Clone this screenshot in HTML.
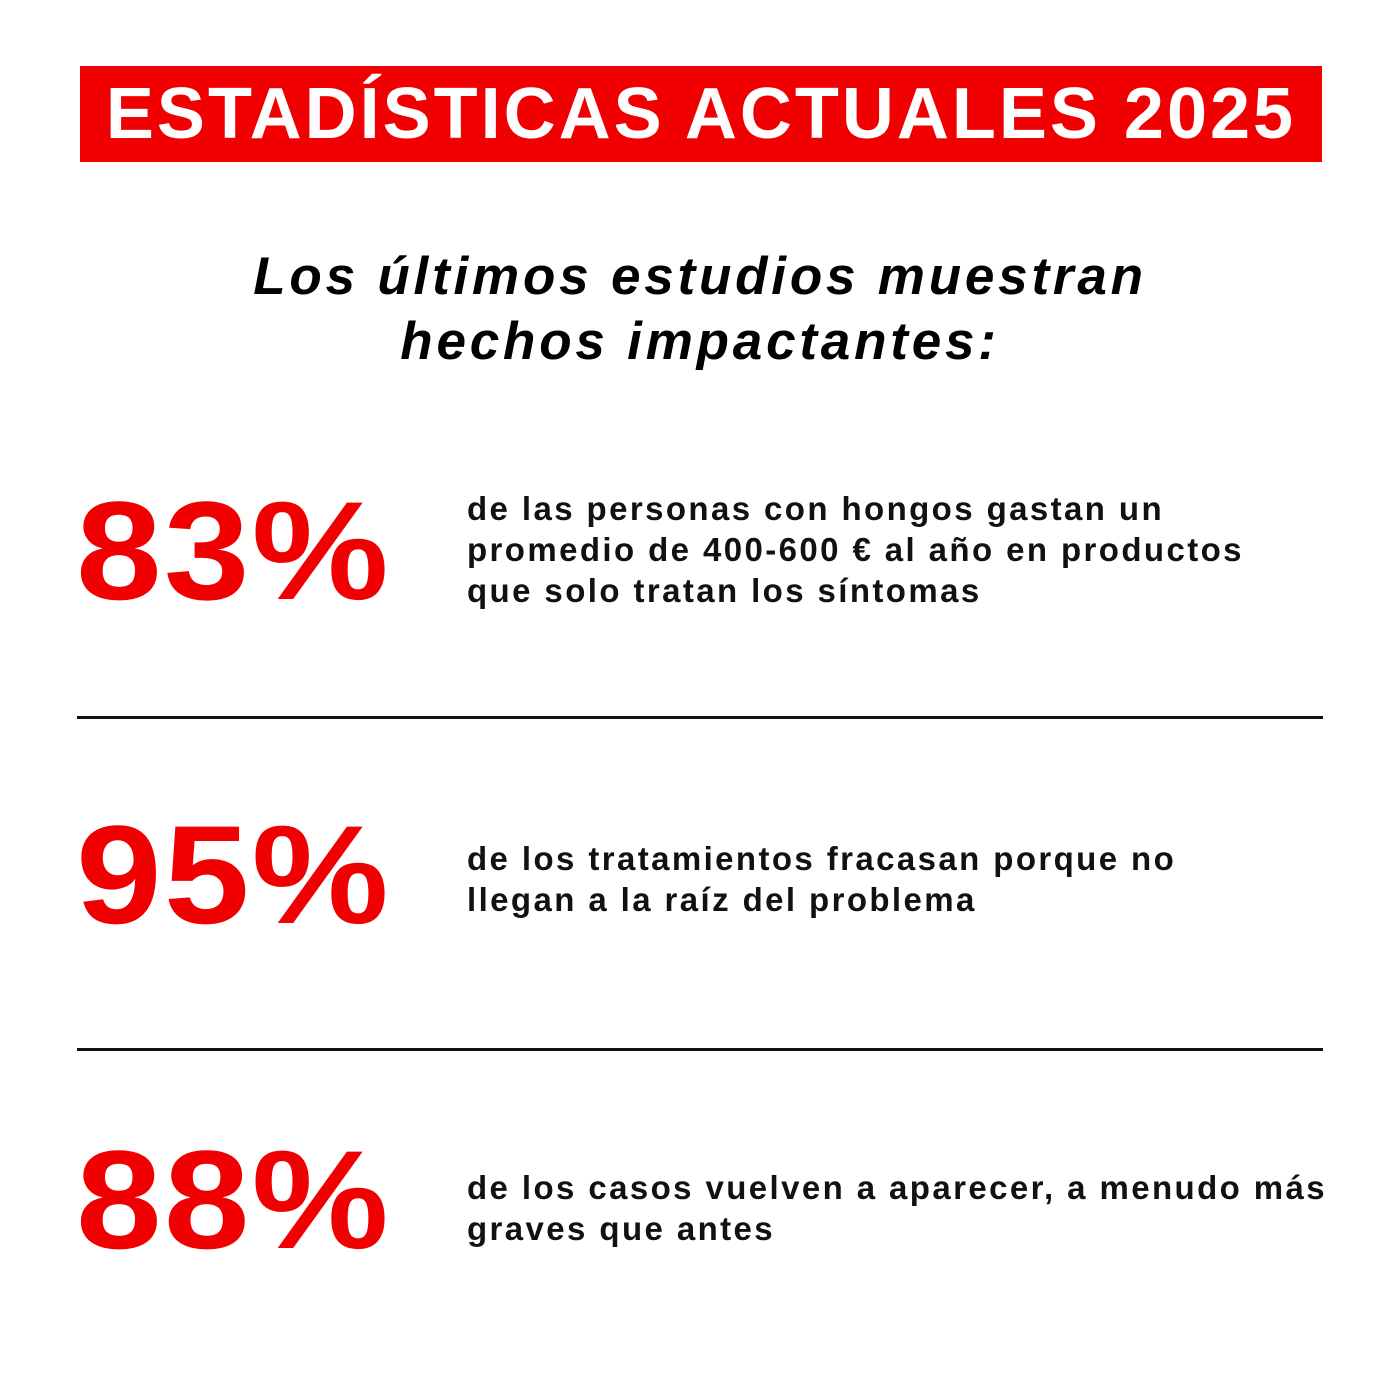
<!DOCTYPE html>
<html><head><meta charset="utf-8">
<style>
html,body{margin:0;padding:0;background:#fff;}
body{width:1400px;height:1400px;position:relative;overflow:hidden;font-family:"Liberation Sans",sans-serif;}
.banner{position:absolute;left:80px;top:66px;width:1242px;height:96px;background:#f00000;}
.banner span{position:absolute;left:0;right:0;top:10px;text-align:center;color:#fff;font-weight:bold;font-size:72px;line-height:76px;letter-spacing:3px;}
.sub{position:absolute;left:0;right:0;top:244px;text-align:center;font-weight:bold;font-style:italic;font-size:53px;line-height:65px;color:#000;letter-spacing:3.8px;}
.pct{position:absolute;left:76px;color:#f00000;font-weight:bold;font-size:140px;line-height:140px;letter-spacing:2px;transform:scaleX(1.1);transform-origin:0 0;}
.desc{position:absolute;left:467px;font-size:33px;line-height:41px;color:#111;letter-spacing:2.4px;white-space:nowrap;font-weight:bold;}
.rule{position:absolute;left:77px;width:1246px;height:3px;background:#111;}
</style></head>
<body>
<div class="banner"><span>ESTADÍSTICAS ACTUALES 2025</span></div>
<div class="sub">Los últimos estudios muestran<br>hechos impactantes:</div>

<div class="pct" style="top:481px">83%</div>
<div class="desc" style="top:488px">de las personas con hongos gastan un<br>promedio de 400-600 € al año en productos<br>que solo tratan los síntomas</div>
<div class="rule" style="top:716px"></div>

<div class="pct" style="top:805px">95%</div>
<div class="desc" style="top:838px">de los tratamientos fracasan porque no<br>llegan a la raíz del problema</div>
<div class="rule" style="top:1048px"></div>

<div class="pct" style="top:1130px">88%</div>
<div class="desc" style="top:1167px">de los casos vuelven a aparecer, a menudo más<br>graves que antes</div>
</body></html>
